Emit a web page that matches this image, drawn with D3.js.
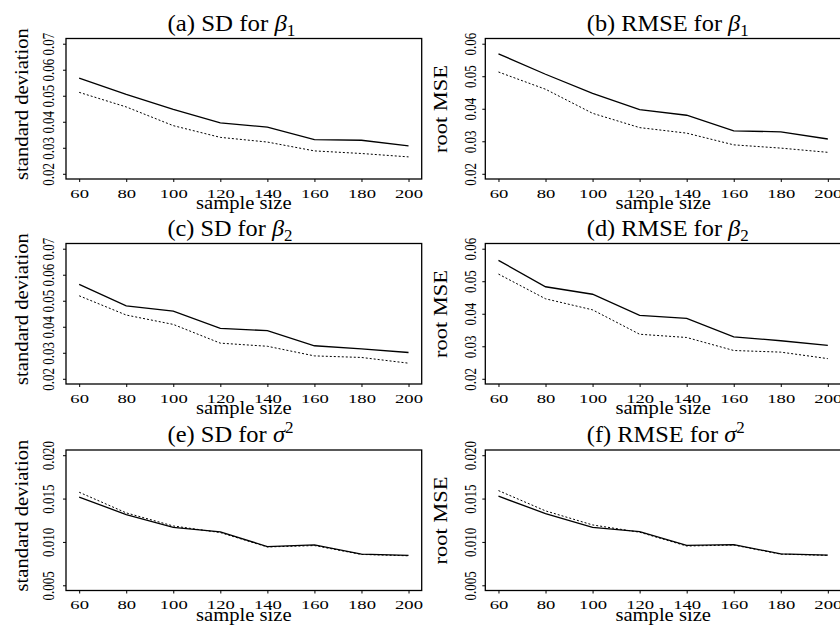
<!DOCTYPE html>
<html>
<head>
<meta charset="utf-8">
<script src="https://cdn.jsdelivr.net/npm/d3@7"></script>
<style>
  body { margin: 0; background: #fff; }
  text { font-family: "Liberation Serif", "Times New Roman", serif; fill: #000; }
</style>
</head>
<body>
<svg id="chart" width="840" height="632"></svg>
<script>
// sample sizes on the x axis
const sampleSizes = [60, 80, 100, 120, 140, 160, 180, 200];

// solid line = first method, dotted line = second method
const sdBeta1Solid = [0.0568, 0.0505, 0.0448, 0.0396, 0.0379, 0.0331, 0.0329, 0.0307];
const sdBeta1Dotted = [0.0513, 0.0457, 0.0385, 0.0340, 0.0322, 0.0288, 0.0278, 0.0265];
const rmseBeta1Solid = [0.0569, 0.0506, 0.0447, 0.0397, 0.0380, 0.0332, 0.0329, 0.0307];
const rmseBeta1Dotted = [0.0513, 0.0460, 0.0386, 0.0342, 0.0325, 0.0289, 0.0279, 0.0266];
const sdBeta2Solid = [0.0563, 0.0480, 0.0460, 0.0394, 0.0385, 0.0327, 0.0315, 0.0301];
const sdBeta2Dotted = [0.0519, 0.0445, 0.0409, 0.0337, 0.0325, 0.0288, 0.0282, 0.0260];
const rmseBeta2Solid = [0.0564, 0.0483, 0.0460, 0.0395, 0.0386, 0.0329, 0.0317, 0.0303];
const rmseBeta2Dotted = [0.0522, 0.0446, 0.0412, 0.0337, 0.0327, 0.0287, 0.0282, 0.0262];
const sdSigmaSolid = [0.01516, 0.01316, 0.01168, 0.01116, 0.00946, 0.00965, 0.00859, 0.00844];
const sdSigmaDotted = [0.01573, 0.01335, 0.01184, 0.01108, 0.00942, 0.00958, 0.00856, 0.00840];
const rmseSigmaSolid = [0.01527, 0.01327, 0.01168, 0.01120, 0.00961, 0.00969, 0.00862, 0.00848];
const rmseSigmaDotted = [0.01592, 0.01358, 0.01196, 0.01112, 0.00953, 0.00964, 0.00859, 0.00845];

// tick values
const yTicksSd = [0.02, 0.03, 0.04, 0.05, 0.06, 0.07];
const yTicksRmse = [0.02, 0.03, 0.04, 0.05, 0.06];
const yTicksSigma = [0.005, 0.010, 0.015, 0.020];

let panels = [
    {label: "(a) SD for ", sym: "β", idx: "1", sup: false, ylab: "standard deviation", solid: sdBeta1Solid, dotted: sdBeta1Dotted, ticks: yTicksSd, fmt: ".2f", tw: 128},
    {label: "(b) RMSE for ", sym: "β", idx: "1", sup: false, ylab: "root MSE", solid: rmseBeta1Solid, dotted: rmseBeta1Dotted, ticks: yTicksRmse, fmt: ".2f", tw: 162},
    {label: "(c) SD for ", sym: "β", idx: "2", sup: false, ylab: "standard deviation", solid: sdBeta2Solid, dotted: sdBeta2Dotted, ticks: yTicksSd, fmt: ".2f", tw: 125},
    {label: "(d) RMSE for ", sym: "β", idx: "2", sup: false, ylab: "root MSE", solid: rmseBeta2Solid, dotted: rmseBeta2Dotted, ticks: yTicksRmse, fmt: ".2f", tw: 162},
    {label: "(e) SD for ", sym: "σ", idx: "2", sup: true, ylab: "standard deviation", solid: sdSigmaSolid, dotted: sdSigmaDotted, ticks: yTicksSigma, fmt: ".3f", tw: 126},
    {label: "(f) RMSE for ", sym: "σ", idx: "2", sup: true, ylab: "root MSE", solid: rmseSigmaSolid, dotted: rmseSigmaDotted, ticks: yTicksSigma, fmt: ".3f", tw: 158}
];

let svg = d3.select("#chart");
svg.append("rect").attr("width", 840).attr("height", 632).attr("fill", "#fff");

let colX = [0, 419.3];
let rowY = [0, 205, 411.5];
let box = {left: 66, top: 38.5, width: 355.7, height: 140.5};

// horizontal stretch needed so a text node reaches a target length
function fitWidth(sel, target) {
    let w = sel.node().getComputedTextLength();
    return target / w;
}

panels.forEach((p, i) => {
    let ox = colX[i % 2];
    let oy = rowY[Math.floor(i / 2)];
    let right = i % 2 === 1;

    let g = svg.append("g").attr("transform", "translate(" + ox + "," + oy + ")");
    let plot = g.append("g").attr("transform", "translate(" + box.left + "," + box.top + ")");

    // R style 4% padding around the data range
    let xPad = (200 - 60) * 0.04;
    let x = d3.scaleLinear().domain([60 - xPad, 200 + xPad]).range([0, box.width]);
    let lo = p.ticks[0], hi = p.ticks[p.ticks.length - 1];
    let yPad = (hi - lo) * 0.04;
    let y = d3.scaleLinear().domain([lo - yPad, hi + yPad]).range([box.height, 0]);

    // x axis
    let xa = plot.append("g")
        .attr("transform", "translate(0," + box.height + ")")
        .call(d3.axisBottom(x).tickValues(sampleSizes).tickSize(3).tickSizeOuter(0));
    xa.select(".domain").remove();
    xa.attr("font-family", null).attr("font-size", null);
    xa.selectAll("line").attr("stroke-width", 1);
    xa.selectAll("text")
        .attr("y", 19).attr("dy", 0)
        .attr("font-size", 13.5)
        .attr("transform", "scale(1.38,1)");

    // y axis
    let ya = plot.append("g")
        .call(d3.axisLeft(y).tickValues(p.ticks).tickSize(3).tickSizeOuter(0).tickFormat(d3.format(p.fmt)));
    ya.select(".domain").remove();
    ya.attr("font-family", null).attr("font-size", null);
    ya.selectAll("line").attr("stroke-width", 1);
    let off = right ? 9 : 12;
    ya.selectAll("text")
        .attr("x", 0).attr("dy", 0)
        .attr("text-anchor", "middle")
        .attr("font-size", 13)
        .attr("transform", "translate(" + (-off) + ",0) scale(1.35,1) rotate(-90)");

    // frame
    plot.append("rect")
        .attr("width", box.width).attr("height", box.height)
        .attr("fill", "none").attr("stroke", "#000").attr("stroke-width", 1.3);

    let line = d3.line()
        .x((d, j) => x(sampleSizes[j]))
        .y(d => y(d));

    plot.append("path")
        .datum(p.dotted)
        .attr("d", line)
        .attr("fill", "none").attr("stroke", "#000")
        .attr("stroke-width", 1).attr("stroke-dasharray", "2,2");

    plot.append("path")
        .datum(p.solid)
        .attr("d", line)
        .attr("fill", "none").attr("stroke", "#000")
        .attr("stroke-width", 1.3);

    // title
    let t = g.append("text").attr("font-size", 23).attr("x", 0).attr("y", 0);
    t.append("tspan").text(p.label);
    t.append("tspan").attr("font-style", "italic").text(p.sym);
    t.append("tspan").attr("font-size", 16).attr("dy", p.sup ? -9 : 5).text(p.idx);
    let kt = fitWidth(t, p.tw);
    t.attr("transform", "translate(167.5,30.5) scale(" + kt + ",1)");

    // x label
    let xl = g.append("text").attr("font-size", 18).attr("text-anchor", "middle").text("sample size");
    let kx = fitWidth(xl, 95.6);
    xl.attr("transform", "translate(" + (box.left + box.width / 2) + ",209) scale(" + kx + ",1)");

    // y label
    let yl = g.append("text").attr("font-size", 19).attr("text-anchor", "middle").text(p.ylab);
    let ky = fitWidth(yl, right ? 88 : 152);
    let cy = right ? 109 : 104;
    yl.attr("transform", "translate(28," + cy + ") rotate(-90) scale(" + ky + ",1)");
});
</script>
</body>
</html>
